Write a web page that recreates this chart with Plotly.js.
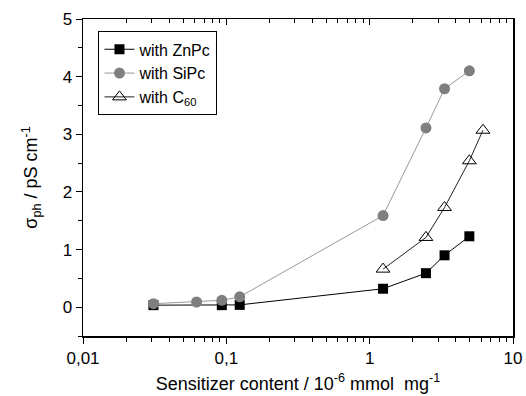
<!DOCTYPE html>
<html><head><meta charset="utf-8">
<script src="https://cdn.plot.ly/plotly-3.0.1.min.js"></script>
<style>html,body{margin:0;padding:0;background:#fff}#c{width:526px;height:396px}</style>
</head><body><div id="c"></div>
<script>
const znpcX = [0.031, 0.093, 0.124, 1.24, 2.47, 3.33, 4.96];
const znpcY = [0.035, 0.035, 0.04, 0.32, 0.59, 0.90, 1.23];
const sipcX = [0.031, 0.062, 0.093, 0.124, 1.24, 2.47, 3.33, 4.96];
const sipcY = [0.06, 0.09, 0.12, 0.18, 1.59, 3.11, 3.79, 4.10];
const c60X = [1.24, 2.47, 3.33, 4.96, 6.17];
const c60Y = [0.66, 1.21, 1.73, 2.54, 3.07];
const xMajor = [0.01, 0.1, 1, 10];
const xMajorText = ['0,01', '0,1', '1', '10'];
const xMinor = [0.02,0.03,0.04,0.05,0.06,0.07,0.08,0.09,0.2,0.3,0.4,0.5,0.6,0.7,0.8,0.9,2,3,4,5,6,7,8,9];
const yMajor = [0, 1, 2, 3, 4, 5];
const yMinor = [-0.5, 0.5, 1.5, 2.5, 3.5, 4.5];

const fam = 'Liberation Sans, Arial, sans-serif';
const tickFont = {family: fam, size: 17, color: '#000'};
const titleFont = {family: fam, size: 18, color: '#000'};
const traces = [
  {x: znpcX, y: znpcY, name: 'with ZnPc', mode: 'lines+markers',
   line: {color: '#000', width: 1}, marker: {symbol: 'square', size: 10, color: '#000'}},
  {x: sipcX, y: sipcY, name: 'with SiPc', mode: 'lines+markers',
   line: {color: '#999', width: 1}, marker: {symbol: 'circle', size: 11, color: '#7f7f7f'}},
  {x: c60X, y: c60Y, name: 'with C<sub>60</sub>', mode: 'lines+markers',
   line: {color: '#222', width: 1}, marker: {symbol: 'triangle-up-open', size: 12, color: '#000', line: {width: 1}}},
  {x: c60X, y: c60Y, xaxis: 'x2', mode: 'markers', showlegend: false, hoverinfo: 'skip',
   marker: {opacity: 0}}
];
const layout = {
  width: 526, height: 396,
  margin: {l: 83, r: 13, t: 19, b: 60},
  paper_bgcolor: '#fff', plot_bgcolor: '#fff',
  font: tickFont,
  separators: ',.',
  showlegend: true,
  xaxis: {type: 'log', range: [-2, 1], showgrid: false, zeroline: false,
    showline: true, linecolor: '#000', linewidth: 1.5,
    tickmode: 'array', tickvals: xMajor, ticktext: xMajorText,
    ticks: 'outside', ticklen: 6, tickwidth: 1, tickcolor: '#000',
    minor: {tickmode: 'array', tickvals: xMinor, ticks: 'outside', ticklen: 4, tickwidth: 1, tickcolor: '#000', showgrid: false},
    tickfont: tickFont,
    title: {text: 'Sensitizer content / 10<sup>-6</sup> mmol  mg<sup>-1</sup>', font: titleFont, standoff: 10}},
  xaxis2: {type: 'log', range: [-2, 1], overlaying: 'x', side: 'top', anchor: 'y',
    showgrid: false, zeroline: false, showline: true, linecolor: '#000', linewidth: 1.5,
    tickmode: 'array', tickvals: xMajor, showticklabels: false,
    ticks: 'inside', ticklen: 6, tickwidth: 1, tickcolor: '#000',
    minor: {tickmode: 'array', tickvals: xMinor, ticks: 'inside', ticklen: 4, tickwidth: 1, tickcolor: '#000', showgrid: false}},
  yaxis: {range: [-0.5, 5], showgrid: false, zeroline: false,
    showline: true, linecolor: '#000', linewidth: 1.5, mirror: true,
    tickmode: 'array', tickvals: yMajor,
    ticks: 'outside', ticklen: 6, tickwidth: 1, tickcolor: '#000',
    minor: {tickmode: 'array', tickvals: yMinor, ticks: 'outside', ticklen: 4, tickwidth: 1, tickcolor: '#000', showgrid: false},
    tickfont: tickFont,
    title: {text: 'σ<sub>ph</sub> / pS cm<sup>-1</sup>', font: titleFont, standoff: 20}},
  legend: {x: 0.036, y: 0.961, xanchor: 'left', yanchor: 'top',
    bgcolor: '#fff', bordercolor: '#000', borderwidth: 1,
    font: {family: fam, size: 16, color: '#000'},
    tracegroupgap: 0, itemwidth: 30}
};
Plotly.newPlot('c', traces, layout, {staticPlot: true});
</script>
</body></html>
